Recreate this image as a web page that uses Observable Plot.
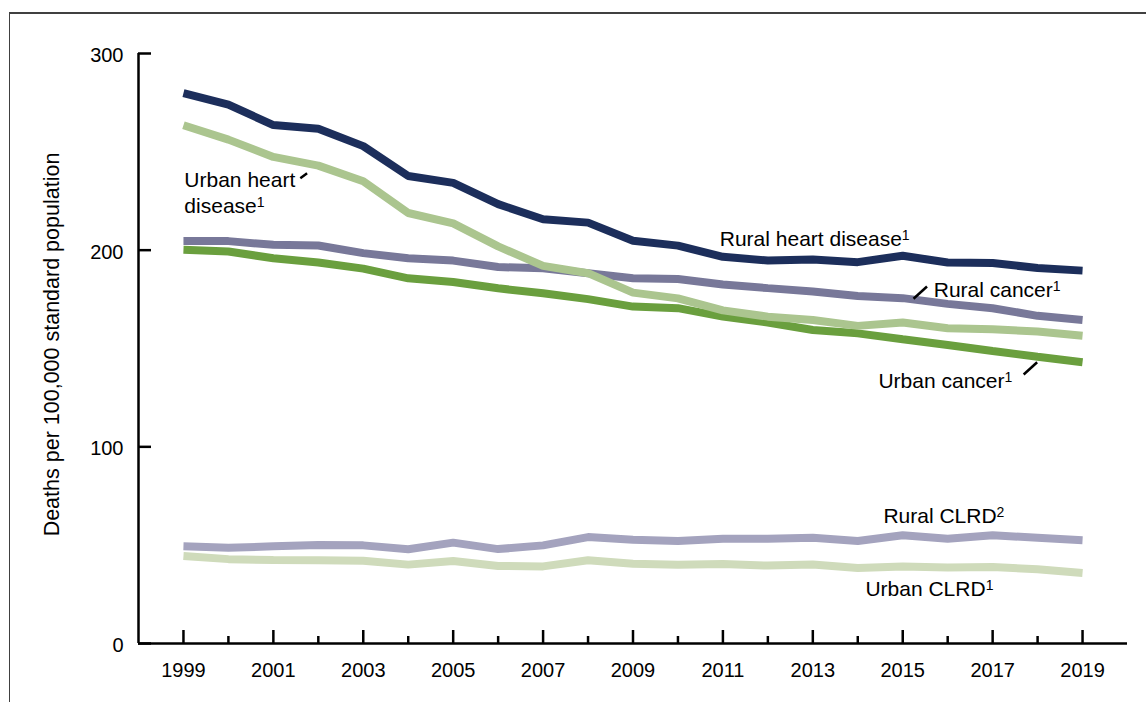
<!DOCTYPE html>
<html><head><meta charset="utf-8">
<script src="https://cdn.jsdelivr.net/npm/d3@7"></script>
<script src="https://cdn.jsdelivr.net/npm/@observablehq/plot@0.6"></script>
<style>
body{margin:0;background:#fff;}
#wrap{position:relative;width:1146px;height:702px;overflow:hidden;}
#frame{position:absolute;left:9px;top:12px;right:-5px;bottom:-5px;border-top:2px solid #404040;border-left:1.5px solid #404040;}
#chart{position:absolute;left:0;top:0;}
</style></head><body>
<div id="wrap"><div id="frame"></div><div id="chart"></div></div>
<script>
const years = [1999,2000,2001,2002,2003,2004,2005,2006,2007,2008,2009,2010,2011,2012,2013,2014,2015,2016,2017,2018,2019];
const majorYears = [1999,2001,2003,2005,2007,2009,2011,2013,2015,2017,2019];
const minorYears = [2000,2002,2004,2006,2008,2010,2012,2014,2016,2018];
const yTicks = [0,100,200,300];

const ruralHeart  = [279.8,274.0,263.6,261.7,252.9,237.7,234.2,223.4,215.7,214.0,204.8,202.3,196.6,194.7,195.3,193.9,197.2,193.7,193.5,190.9,189.6];
const urbanHeart  = [263.5,256.2,247.4,243.0,235.0,218.9,213.6,201.9,192.0,188.3,178.4,175.5,169.4,166.2,164.5,161.5,163.2,160.3,159.8,158.6,156.5];
const ruralCancer = [204.6,204.6,202.7,202.4,198.5,195.9,194.7,191.4,190.8,188.3,185.7,185.3,182.5,180.7,179.0,176.7,175.6,172.7,170.5,166.6,164.5];
const urbanCancer = [200.2,199.3,195.9,193.7,190.6,185.7,183.8,180.6,178.1,175.1,171.3,170.5,166.2,163.2,159.4,157.7,154.7,151.8,148.7,145.8,143.0];
const ruralCLRD   = [49.4,48.7,49.4,50.1,49.9,47.9,51.3,48.0,49.9,54.1,52.8,52.1,53.3,53.3,53.8,52.1,55.0,53.3,55.0,53.8,52.5];
const urbanCLRD   = [44.5,42.9,42.4,42.3,42.1,40.1,41.9,39.4,39.2,42.3,40.6,40.1,40.4,39.6,40.2,38.4,39.2,38.6,38.9,37.7,35.8];

const seriesNames  = ["Urban CLRD","Rural CLRD","Rural cancer","Urban cancer","Urban heart disease","Rural heart disease"];
const seriesValues = [urbanCLRD, ruralCLRD, ruralCancer, urbanCancer, urbanHeart, ruralHeart];
const seriesColors = ["#cfdbbb","#a4a3be","#787899","#6a9f3e","#abc58f","#1c2e5b"];

const labelTexts = ["Urban heart\ndisease¹","Rural heart disease¹","Rural cancer¹","Urban cancer¹","Rural CLRD²","Urban CLRD¹"];
const labelX = [1999.02, 2010.93, 2015.69, 2014.46, 2014.57, 2014.17];
const labelY = [219.1, 201.9, 176.4, 129.7, 61.5, 24.4];

const leaderX1 = [2001.60, 2015.24, 2017.69];
const leaderY1 = [236.6, 175.3, 136.8];
const leaderX2 = [2001.75, 2015.54, 2017.99];
const leaderY2 = [239.1, 181.5, 143.0];

const yLabel = "Deaths per 100,000 standard population";

const table = seriesNames.flatMap((name, s) => years.map((yr, i) => ({series: name, year: yr, value: seriesValues[s][i]})));
const labels = labelTexts.map((t, i) => ({text: t, x: labelX[i], y: labelY[i]}));
const leaders = leaderX1.map((x, i) => ({x1: x, y1: leaderY1[i], x2: leaderX2[i], y2: leaderY2[i]}));

const W = 1146, H = 702, mL = 138, mR = 19, mT = 53, mB = 59;
const innerW = W - mL - mR, innerH = H - mT - mB;

const chart = Plot.plot({
  width: W, height: H,
  marginLeft: mL, marginRight: mR, marginTop: mT, marginBottom: mB,
  style: {fontFamily: "'Liberation Sans', Arial, sans-serif", fontSize: "20px", color: "#000", background: "transparent", overflow: "visible"},
  x: {domain: [1998, 2020]},
  y: {domain: [0, 300]},
  color: {domain: seriesNames, range: seriesColors},
  marks: [
    Plot.axisX({ticks: majorYears, tickSize: 0, tickPadding: 19, tickFormat: d => String(d), fontSize: 20, label: null}),
    Plot.axisY({ticks: yTicks, tickSize: 0, tickPadding: 15, fontSize: 20, label: null, dy: 2}),
    Plot.ruleX(majorYears, {x: d => d, insetTop: innerH - 13, stroke: "#000", strokeWidth: 2.5}),
    Plot.ruleX(minorYears, {x: d => d, insetTop: innerH - 7, stroke: "#000", strokeWidth: 2.5}),
    Plot.ruleY(yTicks, {y: d => d, insetRight: innerW - 13, stroke: "#000", strokeWidth: 2.5}),
    Plot.ruleX([1998], {stroke: "#000", strokeWidth: 2.5}),
    Plot.ruleY([0], {stroke: "#000", strokeWidth: 2.5}),
    Plot.line(table, {x: "year", y: "value", z: "series", stroke: "series", strokeWidth: 8, strokeLinecap: "butt", strokeLinejoin: "miter"}),
    Plot.text(labels, {x: "x", y: "y", text: "text", textAnchor: "start", lineAnchor: "bottom", lineHeight: 1.2, fontSize: 21, fill: "#000"}),
    Plot.link(leaders, {x1: "x1", y1: "y1", x2: "x2", y2: "y2", stroke: "#000", strokeWidth: 2.5}),
    Plot.text([yLabel], {frameAnchor: "left", textAnchor: "middle", lineAnchor: "middle", rotate: -90, dx: -86, dy: -4, fontSize: 21.5, fill: "#000"})
  ]
});

// render footnote markers as real superscript text
const supMap = {"¹": "1", "²": "2"};
chart.querySelectorAll("text, tspan").forEach(el => {
  Array.from(el.childNodes).forEach(node => {
    if (node.nodeType === 3) {
      const m = node.textContent.match(/^([\s\S]*?)([¹²])$/);
      if (!m) return;
      node.textContent = m[1];
      const sup = document.createElementNS("http://www.w3.org/2000/svg", "tspan");
      sup.setAttribute("font-size", "14");
      sup.setAttribute("dy", "-6");
      sup.textContent = supMap[m[2]];
      el.insertBefore(sup, node.nextSibling);
    }
  });
});
document.getElementById("chart").appendChild(chart);
</script>
</body></html>
